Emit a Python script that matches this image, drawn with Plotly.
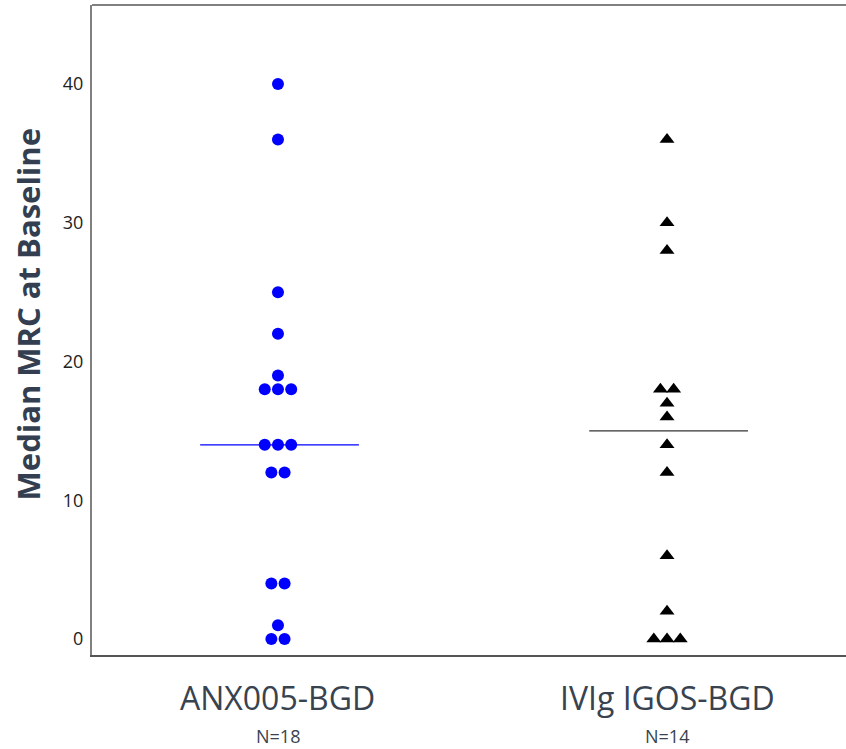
import numpy as np
import plotly.graph_objects as go

categories = ["ANX005-BGD", "IVIg IGOS-BGD"]
n_labels = ["N=18", "N=14"]
anx_values = [40, 36, 25, 22, 19, 18, 18, 18, 14, 14, 14, 12, 12, 4, 4, 1, 0, 0]
ivig_values = [36, 30, 28, 18, 18, 17, 16, 14, 12, 6, 2, 0, 0, 0]
y_ticks = [0, 10, 20, 30, 40]

series = [
    dict(values=anx_values, color="#0000FF", symbol="circle", size=12),
    dict(values=ivig_values, color="#000000", symbol="triangle-up", size=13),
]

SPACING = 0.034  # horizontal gap between tied points (beeswarm)


def swarm_offsets(vals):
    vals = list(vals)
    offs = []
    counts = {}
    for v in vals:
        counts[v] = counts.get(v, 0) + 1
    seen = {}
    for v in vals:
        n = counts[v]
        i = seen.get(v, 0)
        seen[v] = i + 1
        offs.append((i - (n - 1) / 2) * SPACING)
    return offs


fig = go.Figure()
shapes = []
annotations = []
for idx, s in enumerate(series):
    offs = swarm_offsets(s["values"])
    xs = [idx + o for o in offs]
    fig.add_trace(go.Scatter(
        x=xs, y=s["values"], mode="markers",
        marker=dict(color=s["color"], symbol=s["symbol"], size=s["size"],
                    line=dict(width=0)),
        showlegend=False, hoverinfo="y",
    ))
    med = float(np.median(s["values"]))
    shapes.append(dict(type="line", xref="x", yref="y",
                       x0=idx - 0.2, x1=idx + 0.208, y0=med, y1=med,
                       line=dict(color=s["color"] if idx == 0 else "#333333", width=1.3)))
    annotations.append(dict(text=categories[idx], x=idx, xref="x", y=0, yref="paper",
                            yanchor="middle", yshift=-42, showarrow=False,
                            font=dict(family="Open Sans", size=32, color="#38434F")))
    annotations.append(dict(text=n_labels[idx], x=idx, xref="x", y=0, yref="paper",
                            yanchor="middle", yshift=-81, showarrow=False,
                            font=dict(family="Open Sans", size=18, color="#38434F")))

# top frame line
shapes.append(dict(type="line", xref="paper", yref="paper", x0=0, x1=1, y0=1, y1=1,
                   line=dict(color="#808080", width=2)))

annotations.append(dict(text="<b>Median MRC at Baseline</b>", xref="paper", x=0, xshift=-64,
                        xanchor="center", yref="paper", y=0.524, yanchor="middle",
                        textangle=-90, showarrow=False,
                        font=dict(family="Open Sans", size=31, color="#333F50")))

fig.update_layout(
    width=846, height=749,
    margin=dict(l=92, r=0, t=5, b=94),
    paper_bgcolor="white", plot_bgcolor="white",
    shapes=shapes, annotations=annotations,
    xaxis=dict(range=[-0.478, 1.460], showgrid=False, zeroline=False,
               showticklabels=False, showline=True, linecolor="#555555", linewidth=2,
               ticks=""),
    yaxis=dict(range=[-1.15, 45.7], showgrid=False, zeroline=False,
               tickvals=y_ticks, ticktext=[str(t) for t in y_ticks],
               showline=True, linecolor="#808080", linewidth=2, ticks="",
               ticklabelstandoff=3,
               tickfont=dict(family="Open Sans", size=18, color="#222222")),
)

fig.write_html("out.html", config={"displayModeBar": False},
               post_script="document.body.style.margin='0';document.body.style.overflow='hidden';")
